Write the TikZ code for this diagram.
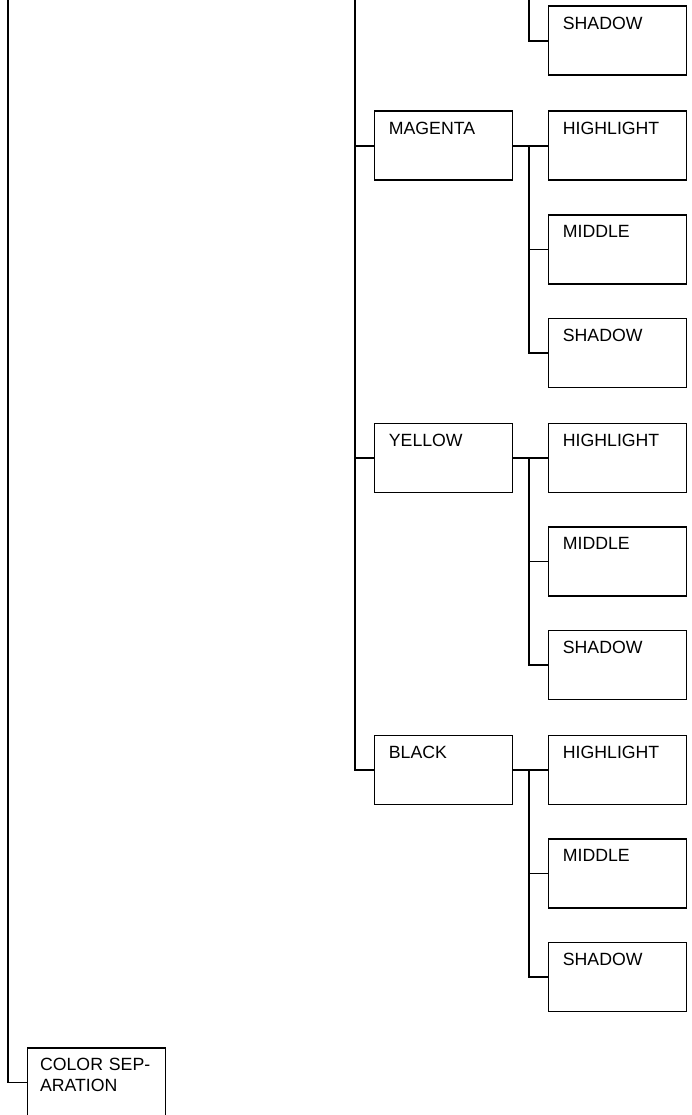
\documentclass[tikz,border=0pt]{standalone}
\usepackage{fontspec}
\setmainfont{Liberation Sans}
\usetikzlibrary{positioning}

\begin{document}
\begin{tikzpicture}[x=1pt,y=-1pt,every node/.style={font=\fontsize{17.7}{21}\selectfont},
box/.style={draw,line width=1.8pt,anchor=north west,align=left,text width=109pt,inner xsep=14.5pt,inner ysep=0pt,text height=22.7pt,text depth=46.3pt},
wire/.style={line width=1.8pt}]
\useasboundingbox (0,0) rectangle (691,1115);
\coordinate (t0) at (8,0);
\coordinate (t1) at (355,0);
\coordinate (t2) at (529,0);
\node[box] (c-sh) at (547.5,5.5) {SHADOW};
\node[box] (m) at (373.5,110.5) {MAGENTA};
\node[box] (m-hi) at (547.5,110.5) {HIGHLIGHT};
\node[box] (m-mid) at (547.5,214) {MIDDLE};
\node[box] (m-sh) at (547.5,317.5) {SHADOW};
\node[box] (y) at (373.5,422.5) {YELLOW};
\node[box] (y-hi) at (547.5,422.5) {HIGHLIGHT};
\node[box] (y-mid) at (547.5,526) {MIDDLE};
\node[box] (y-sh) at (547.5,629.5) {SHADOW};
\node[box] (k) at (373.5,734.5) {BLACK};
\node[box] (k-hi) at (547.5,734.5) {HIGHLIGHT};
\node[box] (k-mid) at (547.5,838) {MIDDLE};
\node[box] (k-sh) at (547.5,941.5) {SHADOW};
\node[box,inner xsep=12.7pt,text width=112.6pt] (sep) at (26.5,1047) {\mbox{COLOR SEP-}\\ARATION};
\draw[wire] (t0) |- (sep.west);
\draw[wire] (t1) |- (k.west);
\draw[wire] (t1 |- m.west) -- (m.west);
\draw[wire] (t1 |- y.west) -- (y.west);
\draw[wire] (t2) |- (c-sh.west);
\foreach \g in {m,y,k}{
  \draw[wire] (\g.east) -- (\g-hi.west);
  \draw[wire] (t2 |- \g.east) |- (\g-sh.west);
  \draw[wire] (t2 |- \g-mid.west) -- (\g-mid.west);
}
\end{tikzpicture}
\end{document}
